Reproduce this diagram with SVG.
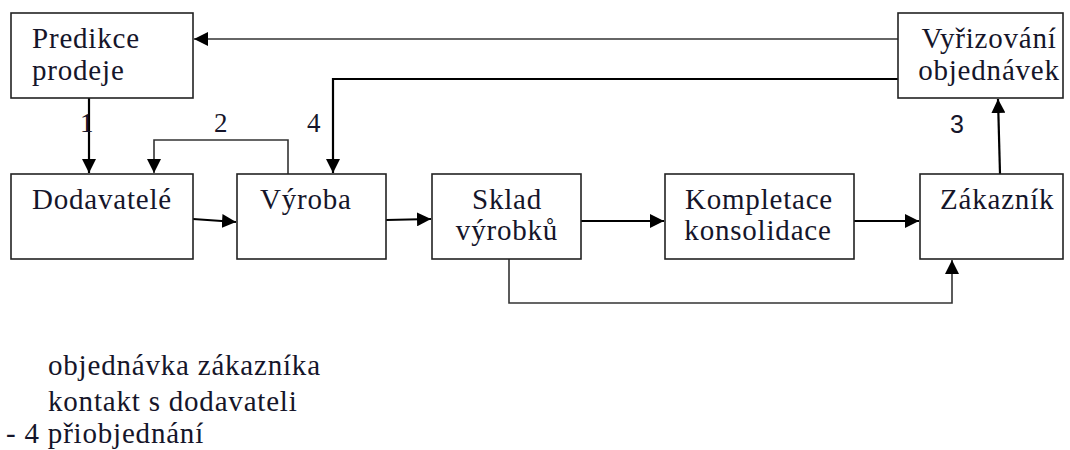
<svg xmlns="http://www.w3.org/2000/svg" width="1070" height="450" viewBox="0 0 1070 450">
<style>
.box{fill:#fff;stroke:#222;stroke-width:1.6}
text.t{font-family:'Liberation Serif','DejaVu Serif',serif;font-size:29px;letter-spacing:0.8px;fill:#15152a}
text.c{text-anchor:middle}
text.s{font-family:'Liberation Sans','DejaVu Sans',sans-serif;font-size:25px;fill:#15152a}
.ln{fill:none;stroke:#000;stroke-width:2.2}
.thin{fill:none;stroke:#333;stroke-width:1.6}
</style>
<defs>
<marker id="ah2" viewBox="0 0 12 12" refX="12" refY="6" markerWidth="14" markerHeight="14" markerUnits="userSpaceOnUse" orient="auto">
<path d="M0,0 L12,6 L0,12 z" fill="#000"/>
</marker>
</defs>
<rect width="1070" height="450" fill="#fff"/>
<g id="connectors">
<path class="thin" d="M898,39 H194" marker-end="url(#ah2)"/>
<path class="ln" d="M898,79 H333 V173" marker-end="url(#ah2)"/>
<path class="ln" d="M89,98 V173" marker-end="url(#ah2)"/>
<path class="thin" d="M288,174 V140 H154 V173" marker-end="url(#ah2)"/>
<path class="ln" d="M193,219 L236,222" marker-end="url(#ah2)"/>
<path class="ln" d="M386,220 L431,219" marker-end="url(#ah2)"/>
<path class="ln" d="M581,221 H664" marker-end="url(#ah2)"/>
<path class="ln" d="M854,221 H919" marker-end="url(#ah2)"/>
<path class="ln" d="M1000,174 L998,99" marker-end="url(#ah2)"/>
<path class="thin" d="M509,259 V303 H952 V260" marker-end="url(#ah2)"/>
<text class="t" font-family="Liberation Serif, serif" x="80" y="132" style="font-size:27px">1</text>
<text class="t" font-family="Liberation Serif, serif" x="214" y="132" style="font-size:27px">2</text>
<text class="t" font-family="Liberation Serif, serif" x="307" y="132" style="font-size:27px">4</text>
<text class="s" font-family="Liberation Sans, sans-serif" x="950" y="133">3</text>
</g>
<g id="predikce">
<rect class="box" x="11" y="13" width="182" height="85"/>
<text class="t" font-family="Liberation Serif, serif" x="32" y="48">Predikce</text>
<text class="t" font-family="Liberation Serif, serif" x="32" y="80">prodeje</text>
</g>
<g id="vyrizovani">
<rect class="box" x="898" y="13" width="165" height="85"/>
<text class="t c" font-family="Liberation Serif, serif" x="989" y="48">Vyřizování</text>
<text class="t c" font-family="Liberation Serif, serif" x="989" y="80">objednávek</text>
</g>
<g id="dodavatele">
<rect class="box" x="11" y="174" width="182" height="85"/>
<text class="t" font-family="Liberation Serif, serif" x="32" y="209">Dodavatelé</text>
</g>
<g id="vyroba">
<rect class="box" x="237" y="174" width="149" height="85"/>
<text class="t" font-family="Liberation Serif, serif" x="260" y="209">Výroba</text>
</g>
<g id="sklad">
<rect class="box" x="432" y="174" width="149" height="85"/>
<text class="t c" font-family="Liberation Serif, serif" x="507" y="209">Sklad</text>
<text class="t c" font-family="Liberation Serif, serif" x="507" y="240">výrobků</text>
</g>
<g id="kompletace">
<rect class="box" x="665" y="174" width="189" height="85"/>
<text class="t c" font-family="Liberation Serif, serif" x="759" y="209">Kompletace</text>
<text class="t c" font-family="Liberation Serif, serif" x="758" y="240">konsolidace</text>
</g>
<g id="zakaznik">
<rect class="box" x="920" y="174" width="143" height="85"/>
<text class="t" font-family="Liberation Serif, serif" x="940" y="209">Zákazník</text>
</g>
<g id="legend">
<text class="t" font-family="Liberation Serif, serif" x="48" y="375">objednávka zákazníka</text>
<text class="t" font-family="Liberation Serif, serif" x="48" y="411">kontakt s dodavateli</text>
<text class="t" font-family="Liberation Serif, serif" x="6" y="443">- 4 přiobjednání</text>
</g>
</svg>
